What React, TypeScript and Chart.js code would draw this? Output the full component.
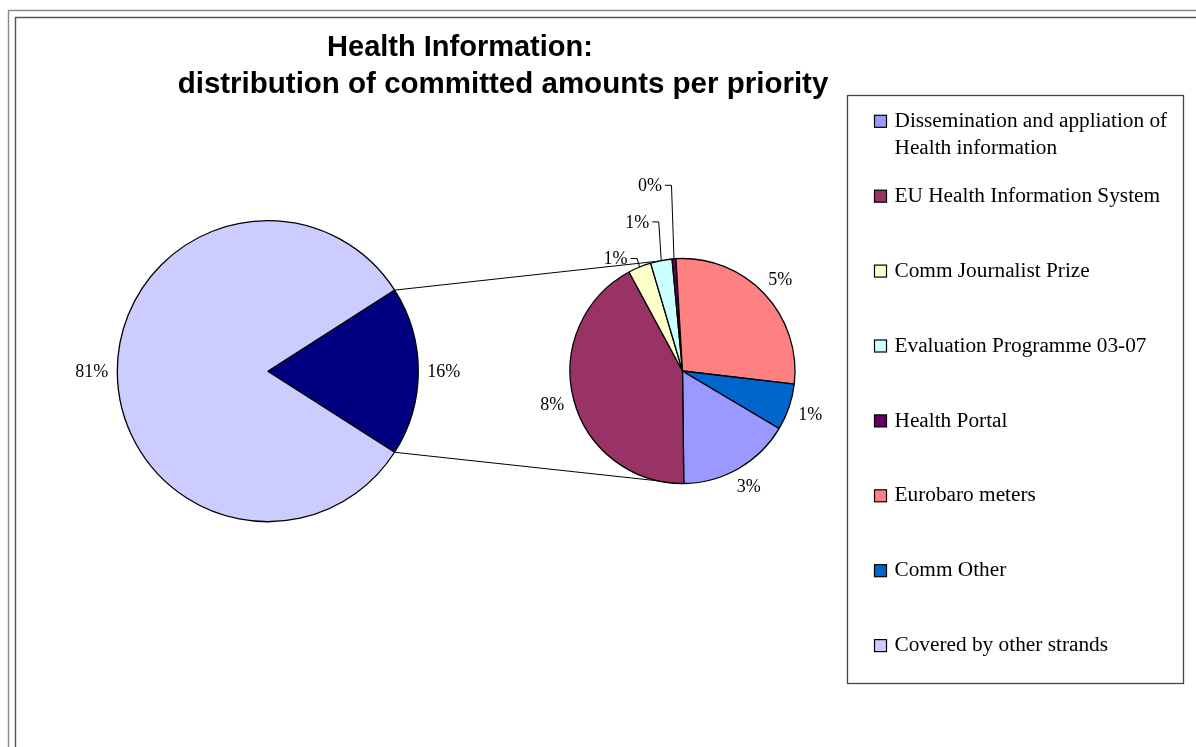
import React, { useEffect, useRef } from "react";
import { Chart, registerables } from "chart.js";

Chart.register(...registerables);

const W = 1196;
const H = 747;

// ---------- data ----------
const titleLines = ["Health Information:", "distribution of committed amounts per priority"];

const secondaryCategories = [
  "Dissemination and appliation of Health information",
  "EU Health Information System",
  "Comm Journalist Prize",
  "Evaluation Programme 03-07",
  "Health Portal",
  "Eurobaro meters",
  "Comm Other",
];
const secondaryValues = [2.95, 7.66, 0.6, 0.56, 0.1, 5.03, 1.21];
const secondaryLabels = ["3%", "8%", "1%", "1%", "0%", "5%", "1%"];
const secondaryColors = ["#9999FF", "#993366", "#FFFFCC", "#CCFFFF", "#660066", "#FF8080", "#0066CC"];

const primaryCategories = ["Other", "Covered by other strands"];
const coveredValue = 81.9;
const otherValue = secondaryValues.reduce((a, b) => a + b, 0);
const primaryValues = [otherValue, coveredValue];
const primaryLabels = ["16%", "81%"];
const primaryColors = ["#000080", "#CCCCFF"];

// ---------- style / layout ----------
const SERIF = '"Liberation Serif", "Times New Roman", Times, serif';
const SANS = '"Liberation Sans", Arial, Helvetica, sans-serif';

const P_CX = 267.8;
const P_CY = 371.2;
const P_R = 150.5;
const S_CX = 682.5;
const S_CY = 371;
const S_R = 112.5;
const S_ROTATION = 120.7;
const EDGE = 1.3;

const legendBox = { left: 847.5, top: 95.5, right: 1183.5, bottom: 683.5 };

function paddingFor(cx: number, cy: number, half: number) {
  return { left: cx - half, top: cy - half, right: W - (cx + half), bottom: H - (cy + half) };
}

const framePlugin = {
  id: "frameDecor",
  beforeDraw(chart: any) {
    const ctx = chart.ctx;
    ctx.save();
    ctx.fillStyle = "#ffffff";
    ctx.fillRect(0, 0, W, H);
    ctx.lineWidth = 1.4;
    ctx.strokeStyle = "#8a8a8a";
    ctx.beginPath();
    ctx.moveTo(8.5, H + 10);
    ctx.lineTo(8.5, 10.5);
    ctx.lineTo(W + 10, 10.5);
    ctx.stroke();
    ctx.strokeStyle = "#555555";
    ctx.beginPath();
    ctx.moveTo(15.5, H + 10);
    ctx.lineTo(15.5, 17.5);
    ctx.lineTo(W + 10, 17.5);
    ctx.stroke();
    ctx.restore();
  },
  afterDraw(chart: any) {
    const ctx = chart.ctx;
    ctx.save();
    // title
    ctx.fillStyle = "#000";
    ctx.textAlign = "center";
    ctx.textBaseline = "alphabetic";
    ctx.font = `bold 29px ${SANS}`;
    ctx.fillText(titleLines[0], 460, 55.5);
    ctx.font = `bold 29.5px ${SANS}`;
    ctx.fillText(titleLines[1], 503, 93);

    // legend
    ctx.strokeStyle = "#444";
    ctx.lineWidth = 1.3;
    ctx.fillStyle = "#fff";
    ctx.fillRect(legendBox.left, legendBox.top, legendBox.right - legendBox.left, legendBox.bottom - legendBox.top);
    ctx.strokeRect(legendBox.left, legendBox.top, legendBox.right - legendBox.left, legendBox.bottom - legendBox.top);

    const items = secondaryCategories.map((c, i) => ({ label: c, color: secondaryColors[i] }));
    items.push({ label: primaryCategories[1], color: primaryColors[1] });

    ctx.font = `21.3px ${SERIF}`;
    ctx.textAlign = "left";
    ctx.textBaseline = "middle";
    const textX = 894.5;
    const maxW = legendBox.right - textX - 4;
    items.forEach((it, i) => {
      const rowY = legendBox.top + 25.8 + 74.9 * i;
      ctx.fillStyle = it.color;
      ctx.fillRect(874.5, rowY - 6, 12, 12);
      ctx.strokeStyle = "#000";
      ctx.lineWidth = 1.2;
      ctx.strokeRect(874.5, rowY - 6, 12, 12);
      const words = it.label.split(" ");
      const lines: string[] = [];
      let cur = "";
      words.forEach((w) => {
        const test = cur ? cur + " " + w : w;
        if (ctx.measureText(test).width > maxW && cur) {
          lines.push(cur);
          cur = w;
        } else cur = test;
      });
      if (cur) lines.push(cur);
      ctx.fillStyle = "#000";
      lines.forEach((ln, j) => ctx.fillText(ln, textX, rowY + j * 26.7));
    });
    ctx.restore();
  },
};

const pieLabelsPlugin = {
  id: "pieLabels",
  afterDatasetsDraw(chart: any, _args: any, opts: any) {
    const labels: string[] = opts.labels || [];
    const leaderMaxDeg: number = opts.leaderMaxDeg ?? 0;
    const meta = chart.getDatasetMeta(0);
    const ctx = chart.ctx;
    ctx.save();
    ctx.font = `18px ${SERIF}`;
    ctx.fillStyle = "#000";
    ctx.strokeStyle = "#000";
    ctx.lineWidth = 1;
    ctx.textBaseline = "middle";
    let k = 0;
    meta.data.forEach((arc: any, i: number) => {
      const p = arc.getProps(["x", "y", "startAngle", "endAngle", "outerRadius"], true);
      const mid = (p.startAngle + p.endAngle) / 2;
      const span = ((p.endAngle - p.startAngle) * 180) / Math.PI;
      const text = labels[i];
      if (!text) return;
      const w = ctx.measureText(text).width;
      const ux = Math.cos(mid);
      const uy = Math.sin(mid);
      if (span < leaderMaxDeg) {
        const ax = p.x + p.outerRadius * ux;
        const ay = p.y + p.outerRadius * uy;
        const yl = p.y - p.outerRadius - k * 36.6;
        const ex = ax - 2.5;
        const hx = ex - 6.5;
        ctx.beginPath();
        ctx.moveTo(ax, ay);
        ctx.lineTo(ex, yl);
        ctx.lineTo(hx, yl);
        ctx.stroke();
        ctx.textAlign = "right";
        ctx.fillText(text, hx - 3, yl + 1);
        k++;
      } else {
        const d = p.outerRadius + 9 + Math.abs(ux) * (w / 2) + Math.abs(uy) * 6;
        ctx.textAlign = "center";
        ctx.fillText(text, p.x + d * ux, p.y + d * uy + 1);
      }
    });
    ctx.restore();
  },
};

function makeConnectorPlugin(getPrimary: () => any) {
  return {
    id: "connectors",
    beforeDatasetsDraw(chart: any) {
      const primary = getPrimary();
      if (!primary) return;
      const pa = primary.getDatasetMeta(0).data[0];
      const sa = chart.getDatasetMeta(0).data[0];
      if (!pa || !sa) return;
      const p = pa.getProps(["x", "y", "startAngle", "endAngle", "outerRadius"], true);
      const s = sa.getProps(["x", "y", "outerRadius"], true);
      const ctx = chart.ctx;
      ctx.save();
      ctx.strokeStyle = "#000";
      ctx.lineWidth = 1;
      ctx.beginPath();
      ctx.moveTo(p.x + p.outerRadius * Math.cos(p.startAngle), p.y + p.outerRadius * Math.sin(p.startAngle));
      ctx.lineTo(s.x, s.y - s.outerRadius);
      ctx.moveTo(p.x + p.outerRadius * Math.cos(p.endAngle), p.y + p.outerRadius * Math.sin(p.endAngle));
      ctx.lineTo(s.x, s.y + s.outerRadius);
      ctx.stroke();
      ctx.restore();
    },
  };
}

export default function App() {
  const ref1 = useRef<HTMLCanvasElement>(null);
  const ref2 = useRef<HTMLCanvasElement>(null);

  useEffect(() => {
    const totalPrimary = primaryValues.reduce((a, b) => a + b, 0);
    const otherDeg = (360 * primaryValues[0]) / totalPrimary;

    const c1 = new Chart(ref1.current as HTMLCanvasElement, {
      type: "pie",
      data: {
        labels: primaryCategories,
        datasets: [
          {
            data: primaryValues,
            backgroundColor: primaryColors,
            borderColor: "#000",
            borderWidth: EDGE,
            radius: P_R,
          } as any,
        ],
      },
      options: {
        responsive: true,
        maintainAspectRatio: false,
        animation: false,
        events: [],
        rotation: 90 - otherDeg / 2,
        layout: { padding: paddingFor(P_CX, P_CY, 170) },
        plugins: {
          legend: { display: false },
          title: { display: false },
          tooltip: { enabled: false },
          pieLabels: { labels: primaryLabels, leaderMaxDeg: 0 },
        } as any,
      },
      plugins: [framePlugin, pieLabelsPlugin],
    });

    const c2 = new Chart(ref2.current as HTMLCanvasElement, {
      type: "pie",
      data: {
        labels: secondaryCategories,
        datasets: [
          {
            data: secondaryValues,
            backgroundColor: secondaryColors,
            borderColor: "#000",
            borderWidth: EDGE,
            radius: S_R,
          } as any,
        ],
      },
      options: {
        responsive: true,
        maintainAspectRatio: false,
        animation: false,
        events: [],
        rotation: S_ROTATION,
        layout: { padding: paddingFor(S_CX, S_CY, 130) },
        plugins: {
          legend: { display: false },
          title: { display: false },
          tooltip: { enabled: false },
          pieLabels: { labels: secondaryLabels, leaderMaxDeg: 15 },
        } as any,
      },
      plugins: [makeConnectorPlugin(() => c1), pieLabelsPlugin],
    });

    return () => {
      c2.destroy();
      c1.destroy();
    };
  }, []);

  const layer: React.CSSProperties = { position: "absolute", left: 0, top: 0, width: W, height: H };
  return (
    <div style={{ ...layer, background: "#fff", overflow: "hidden" }}>
      <div style={layer}>
        <canvas ref={ref1} />
      </div>
      <div style={layer}>
        <canvas ref={ref2} />
      </div>
    </div>
  );
}
